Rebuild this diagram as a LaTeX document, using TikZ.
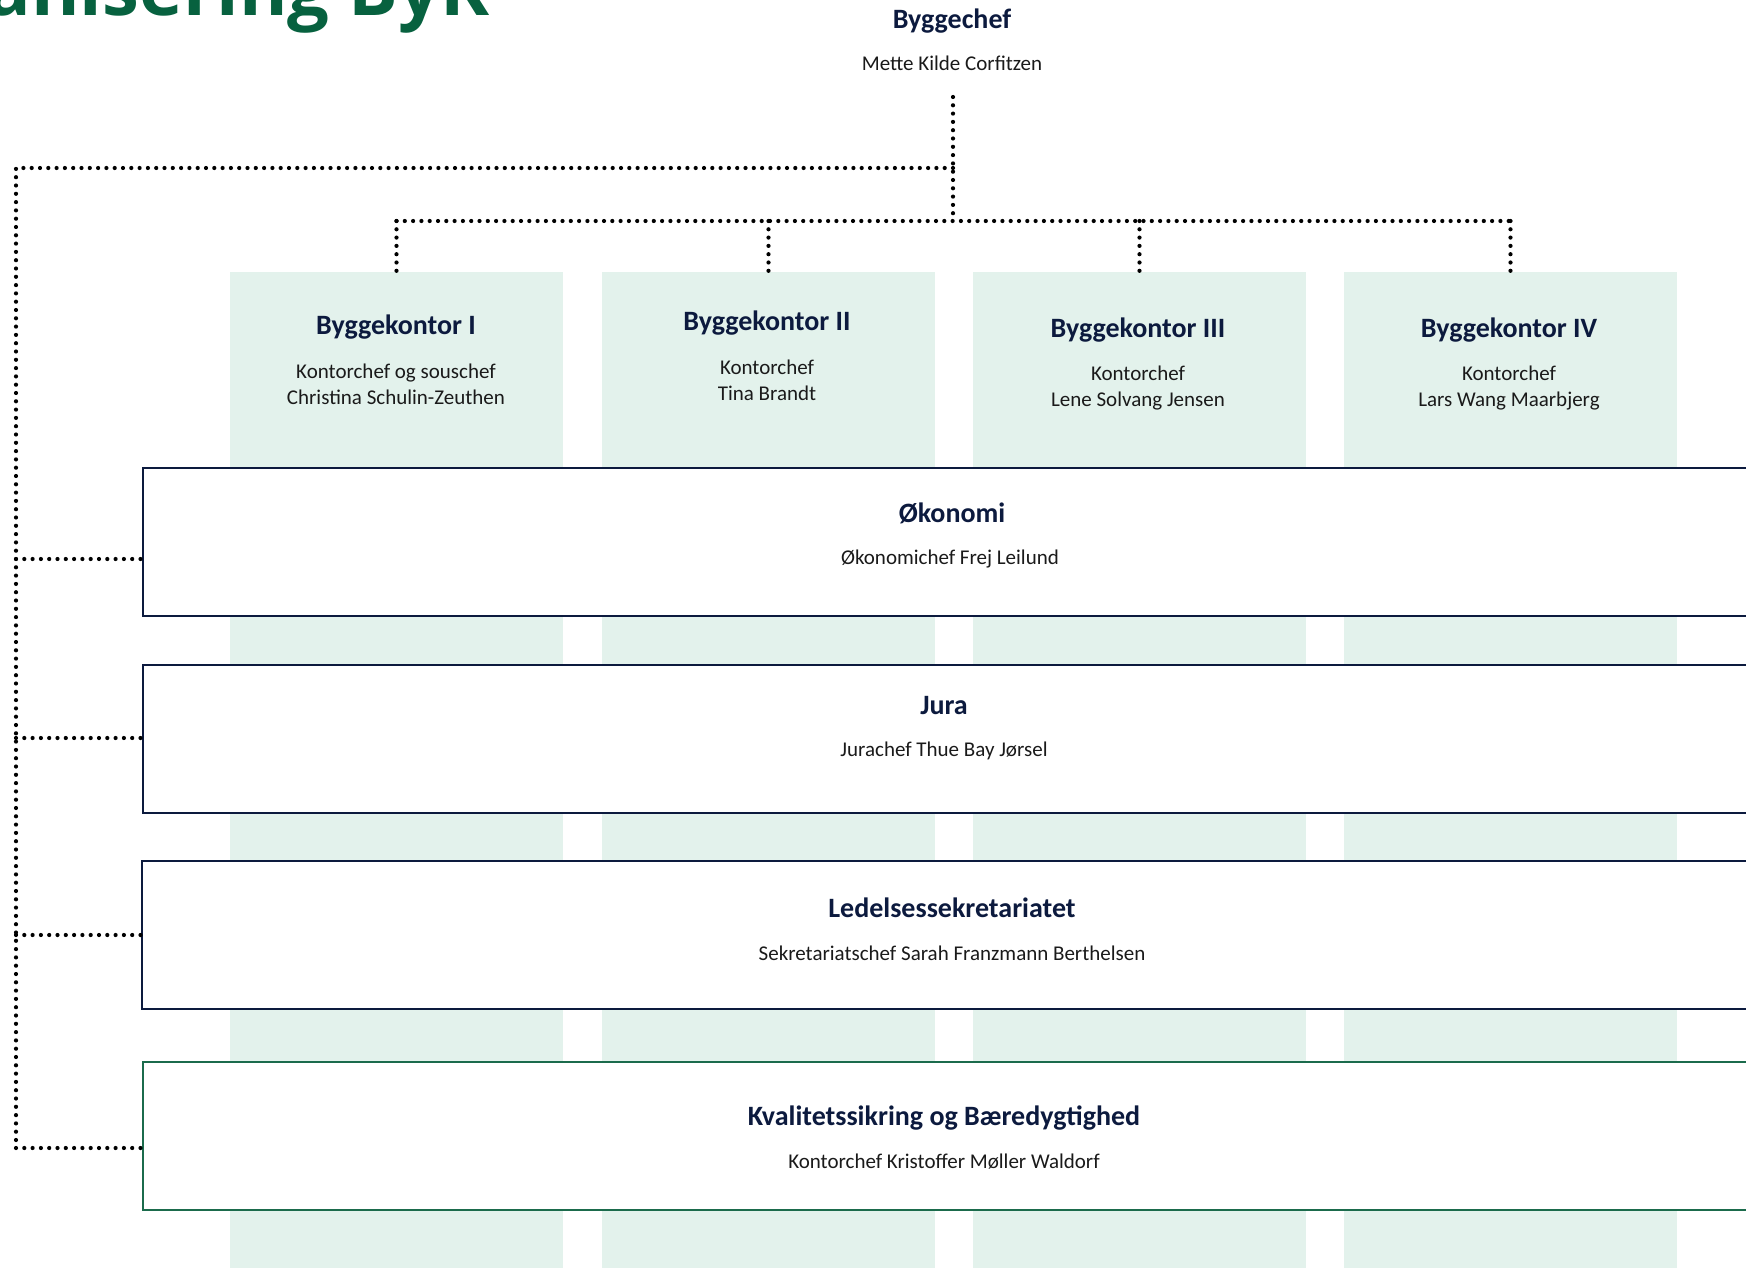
\documentclass[tikz,border=0pt]{standalone}
\usepackage{fontspec}
\setmainfont{Carlito}
\newfontfamily\titlefont{Open Sans}
\definecolor{navy}{HTML}{0C1A3E}
\definecolor{txt}{HTML}{1A1A1A}
\definecolor{colfill}{HTML}{E3F2EC}
\definecolor{kvgreen}{HTML}{1B6B4C}
\definecolor{titlegreen}{HTML}{07613F}
\begin{document}
\begin{tikzpicture}[x=1pt,y=-1pt,
  col/.style={fill=colfill, draw=none, minimum width=333pt, minimum height=996pt, anchor=north west, inner sep=0pt, outer sep=0pt},
  unit/.style={draw=navy, line width=2.8pt, fill=white, minimum width=1700pt, minimum height=148pt, anchor=north west, inner sep=0pt, outer sep=0pt},
  ttl/.style={font=\fontsize{28}{32}\selectfont\bfseries, text=navy, inner sep=0pt},
  sub/.style={font=\fontsize{21}{26}\selectfont, text=txt, inner sep=0pt, align=center},
  link/.style={line width=4.2pt, dash pattern=on 0pt off 8.3pt, line cap=round}]
\useasboundingbox (0,0) rectangle (1746,1268);
\clip (0,0) rectangle (1746,1268);
% title (cropped at top)
\node[font=\titlefont\fontsize{74}{76}\selectfont\bfseries, text=titlegreen, anchor=base east, inner sep=0pt] (title) at (490,16) {Organisering ByK};
% chief
\node[ttl] (chef) at (952,21) {Byggechef};
\node[sub] (chefsub) at (952,63) {Mette Kilde Corfitzen};
% columns
\node[col] (c1) at (230,272) {};
\node[col] (c2) at (602,272) {};
\node[col] (c3) at (973,272) {};
\node[col] (c4) at (1344,272) {};
\node[ttl] (t1) at (396,327) {Byggekontor I};
\node[sub] (s1) at (396,384) {Kontorchef og souschef\\Christina Schulin-Zeuthen};
\node[ttl] (t2) at (767,323) {Byggekontor II};
\node[sub] (s2) at (767,380) {Kontorchef\\Tina Brandt};
\node[ttl] (t3) at (1138,330) {Byggekontor III};
\node[sub] (s3) at (1138,388) {Kontorchef\\Lene Solvang Jensen};
\node[ttl] (t4) at (1509,330) {Byggekontor IV};
\node[sub] (s4) at (1509,388) {Kontorchef\\Lars Wang Maarbjerg};
% staff units
\node[unit] (ok) at (143,468) {};
\node[unit] (ju) at (143,665) {};
\node[unit] (le) at (142,861) {};
\node[unit, draw=kvgreen] (kv) at (143,1062) {};
\node[ttl] (okt) at (952,513) {Økonomi};
\node[sub] (oks) at (950,559) {Økonomichef Frej Leilund};
\node[ttl] (jut) at (944,706) {Jura};
\node[sub] (jus) at (944,751) {Jurachef Thue Bay Jørsel};
\node[ttl] (let) at (952,908) {Ledelsessekretariatet};
\node[sub] (les) at (952,953) {Sekretariatschef Sarah Franzmann Berthelsen};
\node[ttl] (kvt) at (944,1118) {Kvalitetssikring og Bæredygtighed};
\node[sub] (kvs) at (944,1162) {Kontorchef Kristoffer Møller Waldorf};
% connectors
\coordinate (ctop) at (953,97);
\coordinate (hub) at (953,221);
\coordinate (lhub) at (953,168);
\coordinate (lt) at (16,168);
\coordinate (lb) at (16,1148);
\draw[link] (ctop) -- (hub);
\draw[link] (c1.north |- hub) -- (c4.north |- hub);
\foreach \c in {c1,c2,c3,c4} \draw[link] (\c.north |- hub) -- (\c.north);
\draw[link] (lhub) -- (lt) -- (lb);
\draw[link] (lt |- 0,559) -- (ok.west |- 0,559);
\draw[link] (lt |- 0,738) -- (ju.west |- 0,738);
\draw[link] (lt |- 0,935) -- (le.west |- 0,935);
\draw[link] (lb) -- (kv.west |- lb);
\end{tikzpicture}
\end{document}
